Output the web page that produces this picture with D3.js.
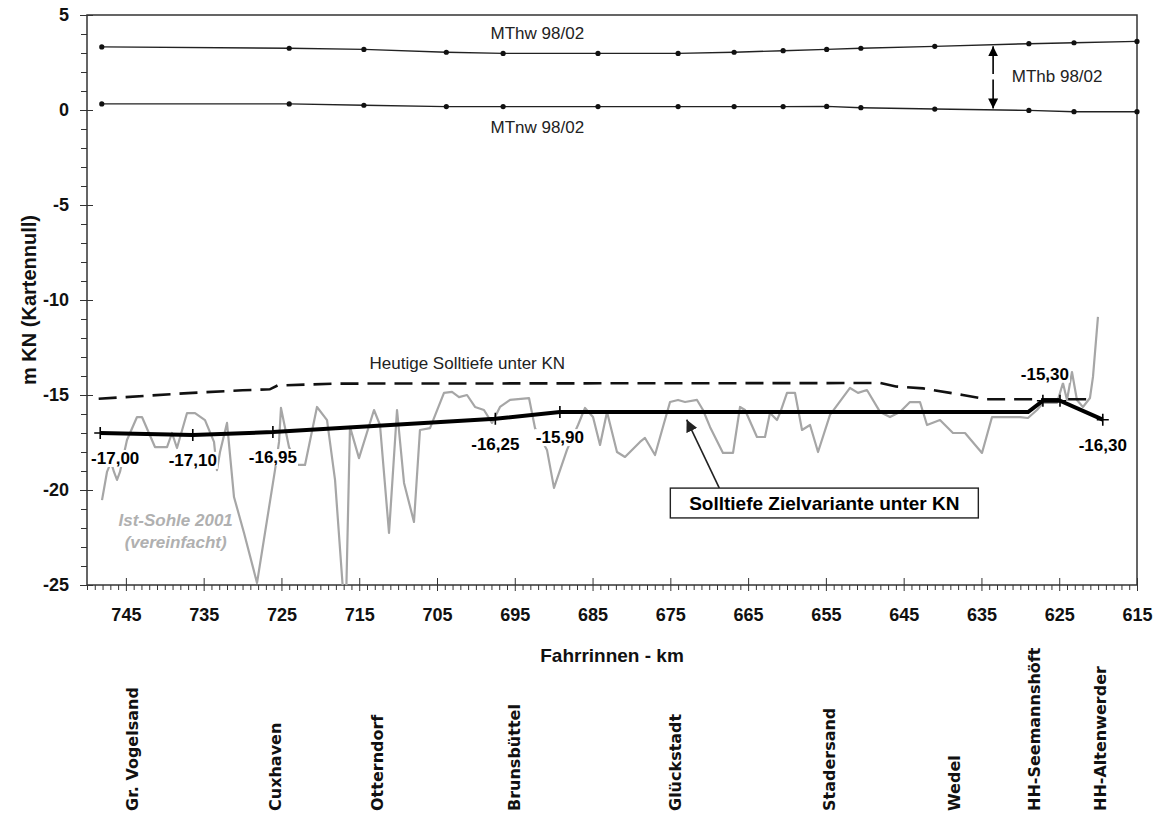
<!DOCTYPE html>
<html><head><meta charset="utf-8">
<script src="https://cdn.jsdelivr.net/npm/d3@7"></script>
<style>
body{margin:0;background:#fff;}
svg{display:block;}
text{font-family:"Liberation Sans",Arial,sans-serif;}
</style>
</head><body>
<svg id="c" width="1160" height="819"></svg>
<script>
// ---------- DATA ----------
const xTickKm = [745,735,725,715,705,695,685,675,665,655,645,635,625,615];
const yTickVals = [5,0,-5,-10,-15,-20,-25];

const kmTide = [748.1,724.0,714.4,703.8,696.5,684.3,674.0,666.8,660.5,654.9,650.5,641.0,628.9,623.1,615.0];
const mthw   = [3.32,3.25,3.19,3.04,2.98,2.98,2.98,3.04,3.12,3.19,3.25,3.35,3.49,3.54,3.61];
const mtnw   = [0.32,0.32,0.25,0.18,0.18,0.18,0.18,0.18,0.18,0.19,0.12,0.05,-0.02,-0.09,-0.09];

const kmHeute = [748.5,737,730,726.5,725.5,718,648,646,642.5,637.4,634.3,621];
const heute   = [-15.2,-14.9,-14.75,-14.7,-14.5,-14.4,-14.37,-14.55,-14.65,-15.0,-15.22,-15.22];

const kmZiel = [748.3,736.4,726.1,697.5,689.2,629.0,627.1,624.9,619.4];
const ziel   = [-17.0,-17.1,-16.95,-16.25,-15.9,-15.9,-15.3,-15.3,-16.3];
const zielLabels = ["-17,00","-17,10","-16,95","-16,25","-15,90","","-15,30","","-16,30"];

const kmIst = [748.07,747.43,746.91,746.53,746.14,745.76,744.86,743.57,742.93,741.26,739.71,739.07,738.43,737.14,736.11,734.83,733.67,733.29,732.9,732.0,731.1,729.81,728.14,725.83,725.31,725.06,724.03,723.0,721.97,720.43,719.14,718.11,716.96,716.7,716.19,715.03,713.1,712.33,711.17,710.14,709.24,707.96,707.19,705.9,704.1,703.07,702.17,701.14,700.11,698.96,697.93,696.9,695.61,693.17,692.4,690.86,689.96,688.29,686.87,685.97,684.94,684.04,683.14,681.86,680.83,678.9,678.26,676.97,675.04,674.01,673.11,671.57,670.8,669.9,668.23,666.94,666.04,665.4,663.86,662.83,662.19,661.29,660.9,660.0,658.97,658.07,657.04,656.01,654.47,651.9,650.87,649.72,648.04,646.76,645.47,644.19,642.9,642.0,640.33,638.66,637.11,634.93,633.64,630.04,629.02,627.86,627.09,625.29,624.52,624.0,623.36,622.72,621.95,621.05,620.66,620.02];
const ist   = [-20.53,-19.05,-18.53,-19.05,-19.47,-19.05,-17.37,-16.16,-16.16,-17.74,-17.74,-17.0,-17.79,-15.95,-15.95,-16.32,-17.47,-18.95,-18.0,-16.47,-20.37,-22.26,-24.89,-18.95,-17.47,-15.68,-17.74,-18.68,-18.68,-15.63,-16.32,-19.47,-26.0,-26.0,-16.68,-18.32,-15.79,-16.58,-22.26,-15.79,-19.63,-21.68,-16.84,-16.74,-14.89,-14.84,-15.11,-15.0,-15.63,-15.79,-16.47,-15.63,-15.26,-15.16,-16.74,-17.89,-19.89,-17.89,-16.58,-15.68,-16.16,-17.63,-15.89,-18.0,-18.26,-17.47,-17.26,-18.16,-15.37,-15.26,-15.37,-15.26,-15.79,-16.68,-18.05,-18.05,-15.63,-15.79,-17.21,-17.21,-15.95,-16.32,-15.95,-14.89,-14.89,-16.84,-16.58,-18.0,-16.05,-14.63,-14.89,-14.74,-15.89,-16.16,-15.89,-15.37,-15.37,-16.58,-16.32,-17.0,-17.0,-18.05,-16.16,-16.16,-16.21,-15.79,-15.42,-15.42,-14.37,-15.26,-13.79,-15.26,-15.63,-15.16,-14.05,-10.89];

const stationNames = ["Gr. Vogelsand","Cuxhaven","Otterndorf","Brunsbüttel","Glückstadt","Stadersand","Wedel","HH-Seemannshöft","HH-Altenwerder"];
const stationKm    = [744.1,725.8,712.6,695.0,674.4,654.6,638.5,628.2,619.7];

// ---------- CHART ----------
const svg = d3.select("#c");
const W = 1160, H = 819;
const L = 87, R = 1137, T = 15, B = 585;
const x = d3.scaleLinear().domain([750,615]).range([L,R]);
const y = d3.scaleLinear().domain([-25,5]).range([B,T]);

const defs = svg.append("defs");
defs.append("clipPath").attr("id","clip").append("rect")
  .attr("x",L).attr("y",T).attr("width",R-L).attr("height",B-T);
defs.append("marker").attr("id","ah").attr("viewBox","0 0 10 10")
    .attr("refX",10).attr("refY",5).attr("markerWidth",10).attr("markerHeight",10)
    .attr("markerUnits","userSpaceOnUse").attr("orient","auto")
    .append("path").attr("d","M0,0 L10,5 L0,10 Z").attr("fill","#000");
defs.append("marker").attr("id","ah2").attr("viewBox","0 0 12 12")
    .attr("refX",12).attr("refY",6).attr("markerWidth",12).attr("markerHeight",12)
    .attr("markerUnits","userSpaceOnUse").attr("orient","auto")
    .append("path").attr("d","M0,0 L12,6 L0,12 Z").attr("fill","#222");

svg.append("rect").attr("width",W).attr("height",H).attr("fill","#fff");

// Axes
const fmt = d => String(d);
const minorX = d3.range(615,751).filter(v => !xTickKm.includes(v));
const gxm = svg.append("g").attr("transform",`translate(0,${B})`)
  .call(d3.axisBottom(x).tickValues(minorX).tickSize(5).tickFormat(""));
gxm.select(".domain").remove();
gxm.selectAll("line").attr("stroke","#333");
const gx = svg.append("g").attr("transform",`translate(0,${B})`)
  .call(d3.axisBottom(x).tickValues(xTickKm).tickSize(6).tickFormat(fmt));
gx.select(".domain").remove();
gx.selectAll("line").attr("y1",-7).attr("stroke","#333");
gx.selectAll("text").attr("y",23).style("font","bold 18px 'Liberation Sans', Arial, sans-serif").attr("fill","#111");

const minorY = d3.range(-25,6).filter(v => !yTickVals.includes(v));
const gym = svg.append("g").attr("transform",`translate(${L},0)`)
  .call(d3.axisLeft(y).tickValues(minorY).tickSize(6).tickFormat(""));
gym.select(".domain").remove();
gym.selectAll("line").attr("stroke","#333");
const gy = svg.append("g").attr("transform",`translate(${L},0)`)
  .call(d3.axisLeft(y).tickValues(yTickVals).tickSize(7).tickFormat(fmt));
gy.select(".domain").remove();
gy.selectAll("line").attr("x1",6).attr("stroke","#333");
gy.selectAll("text").attr("x",-18).style("font","bold 18px 'Liberation Sans', Arial, sans-serif").attr("fill","#111");

// frame
svg.append("rect").attr("x",L).attr("y",T).attr("width",R-L).attr("height",B-T)
  .attr("fill","none").attr("stroke","#333").attr("stroke-width",1.5);

const plot = svg.append("g").attr("clip-path","url(#clip)");
const line = d3.line().x(d=>x(d[0])).y(d=>y(d[1]));

// Ist-Sohle (gray)
plot.append("path").datum(kmIst.map((k,i)=>[k,ist[i]]))
  .attr("d",line).attr("fill","none").attr("stroke","#a6a6a6").attr("stroke-width",2.2)
  .attr("stroke-linejoin","round");

// Heutige Solltiefe (dashed)
plot.append("path").datum(kmHeute.map((k,i)=>[k,heute[i]]))
  .attr("d",line).attr("fill","none").attr("stroke","#111").attr("stroke-width",2.6)
  .attr("stroke-dasharray","18,9");

// Tide lines
[mthw, mtnw].forEach(arr=>{
  const pts = kmTide.map((k,i)=>[k,arr[i]]);
  plot.append("path").datum(pts).attr("d",line).attr("fill","none")
    .attr("stroke","#222").attr("stroke-width",1.4);
  svg.append("g").selectAll("circle").data(pts).join("circle")
    .attr("cx",d=>x(d[0])).attr("cy",d=>y(d[1])).attr("r",2.6).attr("fill","#111");
});

// Solltiefe Zielvariante (thick)
const zpts = kmZiel.map((k,i)=>[k,ziel[i]]);
plot.append("path").datum(zpts).attr("d",line).attr("fill","none")
  .attr("stroke","#000").attr("stroke-width",4);
svg.append("g").selectAll("path").data(zpts.filter((d,i)=>i!==5))
  .join("path").attr("d",d=>`M${x(d[0])-6},${y(d[1])}h12M${x(d[0])},${y(d[1])-6}v12`)
  .attr("stroke","#000").attr("stroke-width",1.6);

// value labels with white background
const lblG = svg.append("g");
zpts.forEach((d,i)=>{
  const t = zielLabels[i];
  if(!t) return;
  const above = (i===6);
  const tx = x(d[0]) + (i===0 ? 15 : (above ? 2 : 0));
  const ty = y(d[1]) + (above ? -21 : 31);
  const g = lblG.append("g");
  const txt = g.append("text").attr("x",tx).attr("y",ty).attr("text-anchor","middle")
    .style("font","bold 17px 'Liberation Sans', Arial, sans-serif").attr("fill","#000").text(t);
  const bb = txt.node().getBBox();
  g.insert("rect","text").attr("x",bb.x-1).attr("y",bb.y+1).attr("width",bb.width+2)
    .attr("height",bb.height-2).attr("fill","#fff");
});

// MThb double arrow
svg.append("line").attr("x1",x(633.5)).attr("x2",x(633.5))
  .attr("y1",y(1.9)).attr("y2",y(3.35)).attr("stroke","#000").attr("stroke-width",1.6)
  .attr("marker-end","url(#ah)");
svg.append("line").attr("x1",x(633.5)).attr("x2",x(633.5))
  .attr("y1",y(1.6)).attr("y2",y(0.08)).attr("stroke","#000").attr("stroke-width",1.6)
  .attr("marker-end","url(#ah)");

// text annotations
const reg = "17px 'Liberation Sans', Arial, sans-serif";
svg.append("text").attr("x",x(692.1)).attr("y",y(4.05)+6).attr("text-anchor","middle")
  .style("font",reg).attr("fill","#222").text("MThw 98/02");
svg.append("text").attr("x",x(692.1)).attr("y",y(-0.9)+6).attr("text-anchor","middle")
  .style("font",reg).attr("fill","#222").text("MTnw 98/02");
svg.append("text").attr("x",x(631.1)).attr("y",y(1.79)+6).attr("text-anchor","start")
  .style("font",reg).attr("fill","#222").text("MThb 98/02");
svg.append("text").attr("x",x(701.1)).attr("y",y(-13.3)+6).attr("text-anchor","middle")
  .style("font",reg).attr("fill","#222").text("Heutige Solltiefe unter KN");

const ita = "italic bold 17px 'Liberation Sans', Arial, sans-serif";
svg.append("text").attr("x",x(738.6)).attr("y",y(-21.6)+6).attr("text-anchor","middle")
  .style("font",ita).attr("fill","#b0b0b0").text("Ist-Sohle 2001");
svg.append("text").attr("x",x(738.6)).attr("y",y(-22.75)+6).attr("text-anchor","middle")
  .style("font",ita).attr("fill","#b0b0b0").text("(vereinfacht)");

// Callout box
svg.append("line").attr("x1",x(668.7)).attr("y1",y(-19.9))
  .attr("x2",x(672.9)).attr("y2",y(-16.3)).attr("stroke","#222").attr("stroke-width",1.6)
  .attr("marker-end","url(#ah2)");
svg.append("rect").attr("x",x(675.0)).attr("y",y(-19.9))
  .attr("width",x(635.4)-x(675.0)).attr("height",y(-21.47)-y(-19.9))
  .attr("fill","#fff").attr("stroke","#222").attr("stroke-width",1.4);
svg.append("text").attr("x",x(655.2)).attr("y",y(-20.7)+7).attr("text-anchor","middle")
  .style("font","bold 19px 'Liberation Sans', Arial, sans-serif").attr("fill","#000")
  .text("Solltiefe Zielvariante unter KN");

// axis titles
svg.append("text").attr("transform",`translate(36,${(T+B)/2}) rotate(-90)`)
  .attr("text-anchor","middle").style("font","bold 20px 'Liberation Sans', Arial, sans-serif")
  .attr("fill","#111").text("m KN  (Kartennull)");
svg.append("text").attr("x",612).attr("y",662).attr("text-anchor","middle")
  .style("font","bold 19px 'Liberation Sans', Arial, sans-serif").attr("fill","#111")
  .text("Fahrrinnen - km");

// station names
svg.append("g").selectAll("text").data(stationNames).join("text")
  .attr("transform",(d,i)=>`translate(${x(stationKm[i])},811) rotate(-90)`)
  .attr("dy","0.35em").attr("text-anchor","start")
  .style("font","bold 16px 'DejaVu Sans', Verdana, sans-serif").attr("fill","#111")
  .text(d=>d);
</script>
</body></html>
